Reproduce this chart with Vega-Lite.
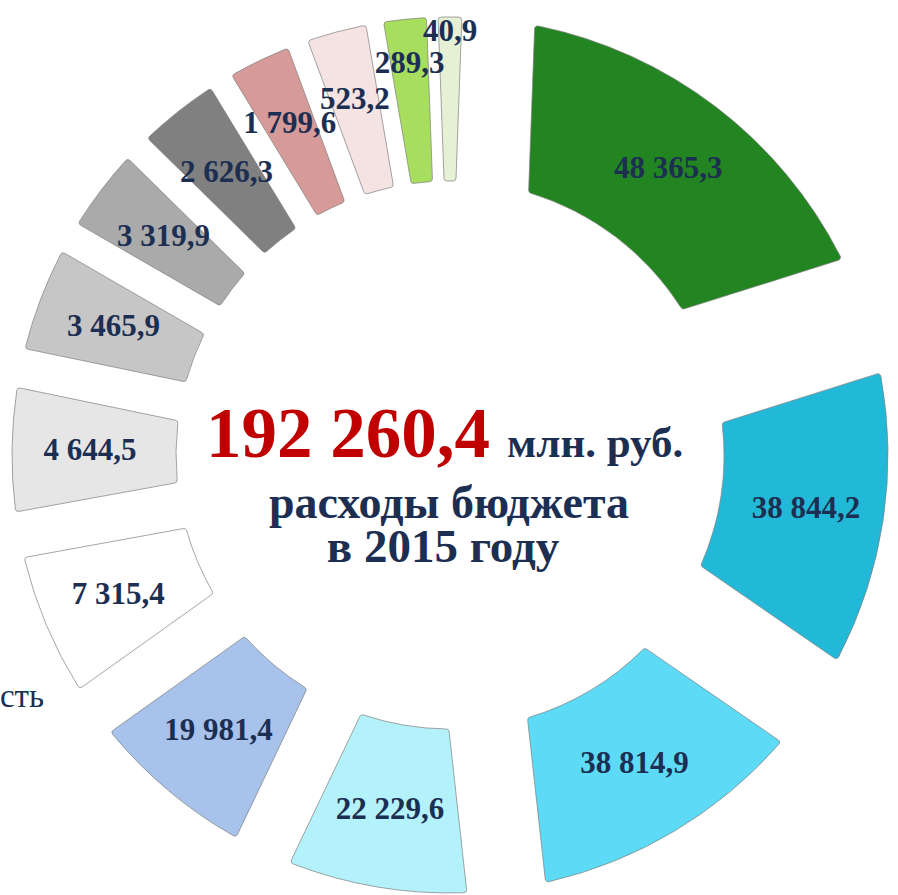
{
  "$schema": "https://vega.github.io/schema/vega-lite/v6.json",
  "autosize": {"type": "none"},
  "width": 896,
  "height": 880,
  "padding": {"left": 2, "top": 15, "right": 0, "bottom": 0},
  "background": "white",
  "config": {
    "view": {"stroke": null},
    "locale": {"number": {"decimal": ",", "thousands": " ", "grouping": [3], "currency": ["", ""]}}
  },
  "datasets": {
    "budget": [
      {"rank": 1, "item": "Раздел 1", "value": 48365.3, "weight": 70.4},
      {"rank": 2, "item": "Раздел 2", "value": 38844.2, "weight": 52.1},
      {"rank": 3, "item": "Раздел 3", "value": 38814.9, "weight": 49.1},
      {"rank": 4, "item": "Раздел 4", "value": 22229.6, "weight": 31.8},
      {"rank": 5, "item": "Раздел 5", "value": 19981.4, "weight": 29.0},
      {"rank": 6, "item": "Раздел 6", "value": 7315.4, "weight": 25.2},
      {"rank": 7, "item": "Раздел 7", "value": 4644.5, "weight": 22.0},
      {"rank": 8, "item": "Раздел 8", "value": 3465.9, "weight": 18.3},
      {"rank": 9, "item": "Раздел 9", "value": 3319.9, "weight": 14.5},
      {"rank": 10, "item": "Раздел 10", "value": 2626.3, "weight": 14.2},
      {"rank": 11, "item": "Раздел 11", "value": 1799.6, "weight": 11.0},
      {"rank": 12, "item": "Раздел 12", "value": 523.2, "weight": 10.6},
      {"rank": 13, "item": "Раздел 13", "value": 289.3, "weight": 7.6},
      {"rank": 14, "item": "Раздел 14", "value": 40.9, "weight": 4.2}
    ]
  },
  "layer": [
    {
      "data": {"name": "budget"},
      "mark": {"type": "arc", "radius": 438, "radius2": 274, "padAngle": {"expr": "0.0038 * datum.weight"}, "cornerRadius": 3, "stroke": "#7f7f7f", "strokeWidth": 1, "strokeOpacity": 0.7},
      "encoding": {
        "theta": {"field": "weight", "type": "quantitative", "stack": true, "scale": {"domain": [0, 360], "range": [0.03665, 6.31984]}},
        "order": {"field": "rank", "type": "quantitative"},
        "color": {
          "field": "item", "type": "nominal", "legend": null,
          "scale": {
            "domain": ["Раздел 1", "Раздел 2", "Раздел 3", "Раздел 4", "Раздел 5", "Раздел 6", "Раздел 7", "Раздел 8", "Раздел 9", "Раздел 10", "Раздел 11", "Раздел 12", "Раздел 13", "Раздел 14"],
            "range": ["#238522", "#22B9D8", "#5DDBF6", "#B4F2FB", "#A7C2EB", "#FFFFFF", "#E6E6E6", "#C6C6C6", "#AAAAAA", "#808080", "#D69A98", "#F5E2E2", "#A8DE5E", "#E5F0D4"]
          }
        }
      }
    },
    {
      "data": {"name": "budget"},
      "mark": {"type": "text", "font": "Liberation Serif", "fontWeight": "bold", "fontSize": 31, "fill": "#1C2F52", "baseline": "middle", "align": "center",
        "radius": {"expr": "datum.value < 100 ? 423 : datum.value < 400 ? 393 : datum.value < 2000 ? 368 : 360"}},
      "encoding": {
        "theta": {"field": "weight", "type": "quantitative", "stack": true},
        "order": {"field": "rank", "type": "quantitative"},
        "text": {"field": "value", "type": "quantitative", "format": ",.1f"}
      }
    },
    {
      "data": {"values": [{}]},
      "mark": {"type": "text", "text": "192 260,4", "font": "Liberation Serif", "fontWeight": "bold", "fontSize": 71, "fill": "#C00000", "align": "right", "baseline": "alphabetic", "dx": 40, "dy": 2},
      "encoding": {}
    },
    {
      "data": {"values": [{}]},
      "mark": {"type": "text", "text": "млн. руб.", "font": "Liberation Serif", "fontWeight": "bold", "fontSize": 43, "fill": "#1C2F52", "align": "left", "baseline": "alphabetic", "dx": 57, "dy": 2},
      "encoding": {}
    },
    {
      "data": {"values": [{}]},
      "mark": {"type": "text", "text": "расходы бюджета", "font": "Liberation Serif", "fontWeight": "bold", "fontSize": 46, "fill": "#1C2F52", "align": "center", "baseline": "alphabetic", "dx": -1, "dy": 63},
      "encoding": {}
    },
    {
      "data": {"values": [{}]},
      "mark": {"type": "text", "text": "в 2015 году", "font": "Liberation Serif", "fontWeight": "bold", "fontSize": 47, "fill": "#1C2F52", "align": "center", "baseline": "alphabetic", "dx": -7, "dy": 107},
      "encoding": {}
    },
    {
      "data": {"values": [{}]},
      "mark": {"type": "text", "text": "Национальная безопасность", "font": "Liberation Serif", "fontSize": 33, "fill": "#1C2F52", "align": "right", "baseline": "alphabetic", "dx": -406, "dy": 252},
      "encoding": {}
    }
  ]
}
